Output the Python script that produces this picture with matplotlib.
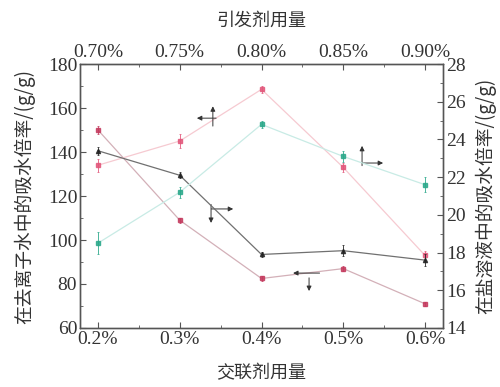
import matplotlib
matplotlib.use("Agg")
import matplotlib.pyplot as plt
from matplotlib.ticker import MultipleLocator

# crosslinker dosage (bottom axis) and initiator dosage (top axis)
crosslinker = ["0.2%", "0.3%", "0.4%", "0.5%", "0.6%"]
initiator = ["0.70%", "0.75%", "0.80%", "0.85%", "0.90%"]

# absorbency in deionized water (left axis), g/g
water_crosslinker = [150, 109, 82.5, 87, 71]
water_crosslinker_err = [2, 1.2, 1, 1, 1]
water_initiator = [134, 145, 168.5, 133, 93]
water_initiator_err = [3, 3, 1.5, 2, 2]

# absorbency in salt solution (right axis), g/g
salt_crosslinker = [23.4, 22.1, 17.9, 18.1, 17.6]
salt_crosslinker_err = [0.2, 0.15, 0.15, 0.3, 0.3]
salt_initiator = [18.5, 21.2, 24.8, 23.1, 21.6]
salt_initiator_err = [0.6, 0.3, 0.2, 0.3, 0.4]

serif = "Liberation Serif"
cjk = ["Noto Sans CJK SC", "DejaVu Sans"]
plt.rcParams.update({"font.family": serif, "font.size": 14,
                     "xtick.direction": "in", "ytick.direction": "in"})

fig = plt.figure(figsize=(5.0, 3.87), dpi=100)
ax = fig.add_axes([0.16, 0.1525, 0.726, 0.682])
ax_r = ax.twinx()
ax_t = ax.twiny()

x = list(range(len(crosslinker)))


def series(a, ys, err, line, mark, marker):
    a.plot(x, ys, color=line, lw=0.9, zorder=2)
    a.errorbar(x, ys, yerr=err, fmt=marker, ms=3, color=mark, ecolor=mark,
               elinewidth=0.7, capsize=1, capthick=0.6, alpha=0.85, zorder=3)


series(ax, water_crosslinker, water_crosslinker_err, "#d3b0b8", "#c43a5e", "s")
series(ax, water_initiator, water_initiator_err, "#f6cad1", "#e2567a", "s")
series(ax_r, salt_crosslinker, salt_crosslinker_err, "#707070", "#222222", "^")
series(ax_r, salt_initiator, salt_initiator_err, "#c8ebe5", "#2aa88a", "s")

xlim = (-0.22, 4.22)
ax.set_xlim(*xlim)
ax_t.set_xlim(*xlim)
ax.set_ylim(60, 180)
ax_r.set_ylim(14, 28)

ax.set_xticks(x)
ax.set_xticklabels(crosslinker)
ax_t.set_xticks(x)
ax_t.set_xticklabels(initiator)
ax.xaxis.set_minor_locator(MultipleLocator(0.5))
ax_t.xaxis.set_minor_locator(MultipleLocator(0.5))
ax.yaxis.set_major_locator(MultipleLocator(20))
ax.yaxis.set_minor_locator(MultipleLocator(10))
ax_r.yaxis.set_major_locator(MultipleLocator(2))
ax_r.yaxis.set_minor_locator(MultipleLocator(1))

for a in (ax, ax_r, ax_t):
    a.tick_params(which="major", length=4, width=0.8, colors="#555555",
                  labelcolor="#333333", pad=2)
    a.tick_params(which="minor", length=2, width=0.6, colors="#555555")
    for s in a.spines.values():
        s.set_color("#555555")
        s.set_linewidth(0.9)

ax.set_xlabel("交联剂用量", family=cjk, fontsize=13, color="#333333", labelpad=12)
ax_t.set_xlabel("引发剂用量", family=cjk, fontsize=13, color="#333333", labelpad=13)
ax.set_ylabel("在去离子水中的吸水倍率/(g/g)", family=cjk, fontsize=13.5,
              color="#333333", labelpad=9)
ax_r.set_ylabel("在盐溶液中的吸水倍率/(g/g)", family=cjk, fontsize=13.5,
                color="#333333", rotation=90, labelpad=7)

# little arrows telling which axes each curve belongs to
arrows = [
    ((0.375, 0.795), (0.322, 0.795)),
    ((0.366, 0.765), (0.366, 0.840)),
    ((0.777, 0.615), (0.777, 0.690)),
    ((0.777, 0.625), (0.835, 0.625)),
    ((0.362, 0.451), (0.422, 0.451)),
    ((0.361, 0.468), (0.361, 0.398)),
    ((0.660, 0.208), (0.587, 0.208)),
    ((0.631, 0.190), (0.631, 0.140)),
]
for start, end in arrows:
    ax.annotate("", xy=end, xytext=start, xycoords="axes fraction",
                arrowprops=dict(arrowstyle="-|>", color="#333333", lw=0.7,
                                mutation_scale=7, shrinkA=0, shrinkB=0))

fig.savefig("out.png", dpi=100)
